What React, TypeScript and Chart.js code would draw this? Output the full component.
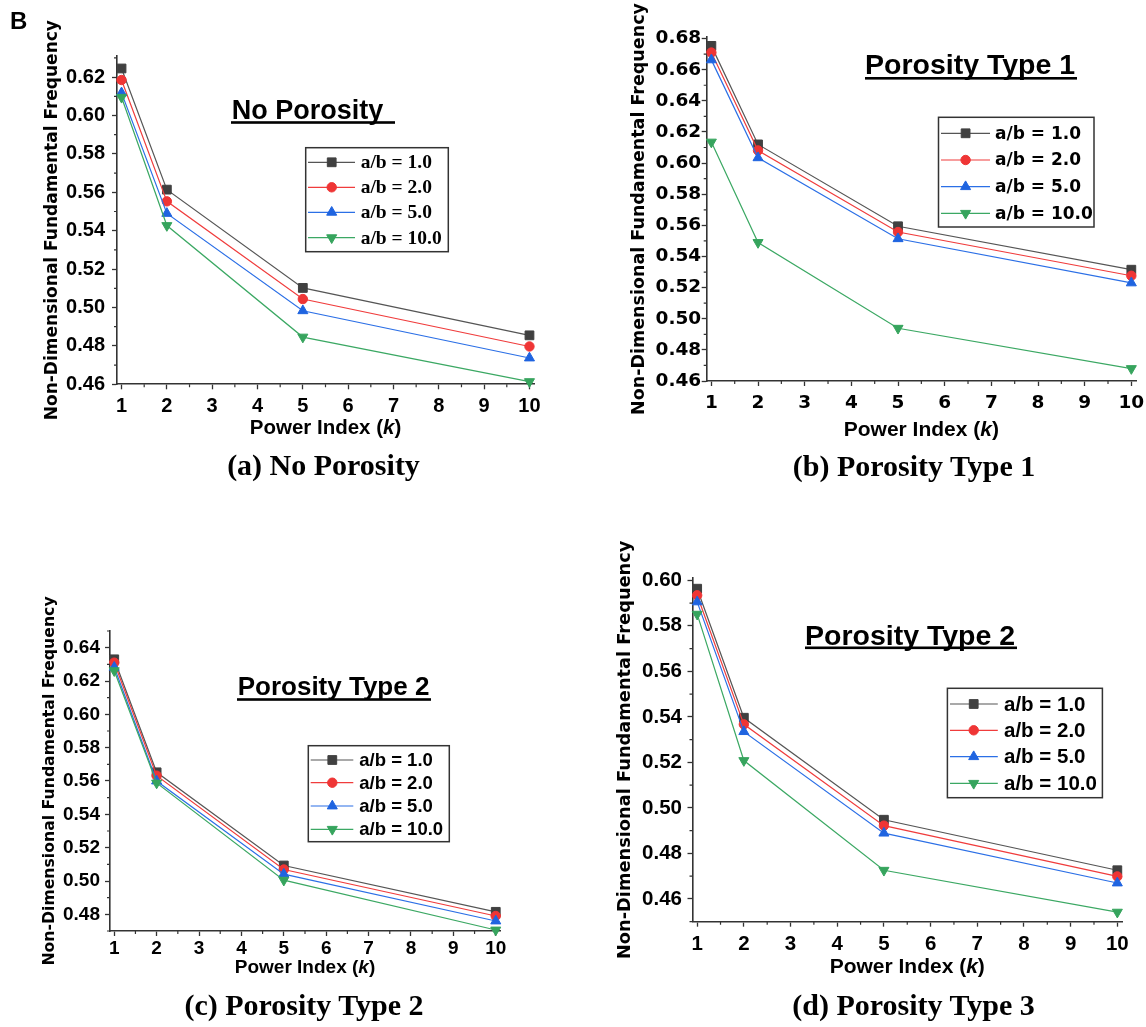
import React, { useEffect, useRef } from 'react';
import { Chart, registerables } from 'chart.js';

Chart.register(...registerables);

// ---------------- data ----------------
const powerIndex = [1, 2, 5, 10];
const seriesNames = ['a/b = 1.0', 'a/b = 2.0', 'a/b = 5.0', 'a/b = 10.0'];
const xTickValues = [1, 2, 3, 4, 5, 6, 7, 8, 9, 10];

// (a) No Porosity
const noPorosityAb1 = [0.6245, 0.5614, 0.5102, 0.4855];
const noPorosityAb2 = [0.6185, 0.5553, 0.5044, 0.4797];
const noPorosityAb5 = [0.6118, 0.549, 0.4983, 0.4737];
const noPorosityAb10 = [0.6095, 0.5427, 0.4846, 0.4614];

// (b) Porosity Type 1
const type1Ab1 = [0.6753, 0.612, 0.5594, 0.5315];
const type1Ab2 = [0.671, 0.6081, 0.5557, 0.5276];
const type1Ab5 = [0.6663, 0.6034, 0.5514, 0.523];
const type1Ab10 = [0.6135, 0.549, 0.4939, 0.468];

// (c) Porosity Type 2
const type2Ab1 = [0.633, 0.5652, 0.5093, 0.4815];
const type2Ab2 = [0.631, 0.5632, 0.5069, 0.479];
const type2Ab5 = [0.6282, 0.56, 0.5041, 0.476];
const type2Ab10 = [0.6262, 0.5588, 0.5005, 0.4706];

// (d) Porosity Type 3
const type3Ab1 = [0.5963, 0.5396, 0.4948, 0.4726];
const type3Ab2 = [0.5934, 0.5367, 0.4922, 0.4699];
const type3Ab5 = [0.5905, 0.5335, 0.4889, 0.467];
const type3Ab10 = [0.5851, 0.5208, 0.4726, 0.4542];

const yTicksA = [0.46, 0.48, 0.5, 0.52, 0.54, 0.56, 0.58, 0.6, 0.62];
const yTicksB = [0.46, 0.48, 0.5, 0.52, 0.54, 0.56, 0.58, 0.6, 0.62, 0.64, 0.66, 0.68];
const yTicksC = [0.48, 0.5, 0.52, 0.54, 0.56, 0.58, 0.6, 0.62, 0.64];
const yTicksD = [0.46, 0.48, 0.5, 0.52, 0.54, 0.56, 0.58, 0.6];

const panelCaptions = ['(a) No Porosity', '(b) Porosity Type 1', '(c) Porosity Type 2', '(d) Porosity Type 3'];
const insetTitles = ['No Porosity ', 'Porosity Type 1', 'Porosity Type 2', 'Porosity Type 2'];
const yAxisTitle = 'Non-Dimensional Fundamental Frequency';
const xAxisTitleParts = ['Power Index (', 'k', ')'];
const figureLabel = 'B';

// ---------------- styles ----------------
const PAGE_W = 1146;
const PAGE_H = 1027;
const Y_W = 100;
const X_H = 70;

const SERIES_STYLE = [
  { line: '#555555', fill: '#404040', shape: 'rect', rot: 0, r: 6.2 },
  { line: '#f03c3c', fill: '#ef3535', shape: 'circle', rot: 0, r: 4.7 },
  { line: '#2b6fe6', fill: '#1f64e0', shape: 'triangle', rot: 0, r: 5.8 },
  { line: '#3ba863', fill: '#36a45d', shape: 'triangle', rot: 180, r: 5.8 },
];

type PanelSpec = {
  id: string;
  series: number[][];
  yTicks: number[];
  yMin: number;
  yMax: number;
  area: { l: number; r: number; t: number; b: number };
  tickFamily: string;
  tickSize: number;
  yTickPad: number;
  xTickPad: number;
  yTitleX: number;
  yTitleFont: string;
  xTitleY: number;
  xTitleFamily: string;
  xTitleSize: number;
  inset: { text: string; x: number; y: number; font: string; ux0: number; ux1: number; uy: number };
  legend: { box: number[]; ys: number[]; lx0: number; lx1: number; mx: number; tx: number; font: string };
  caption: string;
  capX: number;
  capY: number;
};

const PANELS: PanelSpec[] = [
  {
    id: 'a',
    series: [noPorosityAb1, noPorosityAb2, noPorosityAb5, noPorosityAb10],
    yTicks: yTicksA, yMin: 0.46, yMax: 0.631,
    area: { l: 117, r: 534, t: 56, b: 384.3 },
    tickFamily: 'Liberation Sans', tickSize: 20, yTickPad: 7, xTickPad: 4.8,
    yTitleX: 53, yTitleFont: 'bold 17px "DejaVu Sans"',
    xTitleY: 428, xTitleFamily: 'Liberation Sans', xTitleSize: 20.5,
    inset: { text: insetTitles[0], x: 231.7, y: 118.5, font: 'bold 27px "Liberation Sans"', ux0: 231, ux1: 395, uy: 122.5 },
    legend: { box: [305.7, 147.7, 448.3, 251.7], ys: [162.3, 187.3, 212.3, 237.7], lx0: 308, lx1: 355, mx: 331.7, tx: 360.7, font: 'bold 19.5px "Liberation Serif"' },
    caption: panelCaptions[0], capX: 323.5, capY: 467,
  },
  {
    id: 'b',
    series: [type1Ab1, type1Ab2, type1Ab5, type1Ab10],
    yTicks: yTicksB, yMin: 0.46, yMax: 0.681,
    area: { l: 706.7, r: 1136, t: 37, b: 381 },
    tickFamily: 'DejaVu Sans', tickSize: 18.5, yTickPad: 0.5, xTickPad: 6,
    yTitleX: 639, yTitleFont: 'bold 17.5px "DejaVu Sans"',
    xTitleY: 430, xTitleFamily: 'Liberation Sans', xTitleSize: 21,
    inset: { text: insetTitles[1], x: 865, y: 73.5, font: 'bold 28.5px "Liberation Sans"', ux0: 865, ux1: 1077, uy: 78.3 },
    legend: { box: [938.5, 117.3, 1094, 227], ys: [133.3, 160, 186.7, 213.3], lx0: 941, lx1: 990, mx: 965.6, tx: 995, font: 'bold 17px "DejaVu Sans"' },
    caption: panelCaptions[1], capX: 914, capY: 468,
  },
  {
    id: 'c',
    series: [type2Ab1, type2Ab2, type2Ab5, type2Ab10],
    yTicks: yTicksC, yMin: 0.47, yMax: 0.65,
    area: { l: 110, r: 500, t: 631, b: 931 },
    tickFamily: 'Liberation Sans', tickSize: 19, yTickPad: 5, xTickPad: 1.6,
    yTitleX: 50, yTitleFont: 'bold 15.7px "DejaVu Sans"',
    xTitleY: 968, xTitleFamily: 'Liberation Sans', xTitleSize: 19,
    inset: { text: insetTitles[2], x: 237.7, y: 695, font: 'bold 26px "Liberation Sans"', ux0: 237, ux1: 431, uy: 699.5 },
    legend: { box: [308.3, 745.7, 449.3, 841.7], ys: [760, 782.7, 806, 829.3], lx0: 310.7, lx1: 353.3, mx: 332.3, tx: 359.3, font: 'bold 18.5px "Liberation Sans"' },
    caption: panelCaptions[2], capX: 304, capY: 1007,
  },
  {
    id: 'd',
    series: [type3Ab1, type3Ab2, type3Ab5, type3Ab10],
    yTicks: yTicksD, yMin: 0.45, yMax: 0.601,
    area: { l: 692.5, r: 1122, t: 578, b: 921.7 },
    tickFamily: 'Liberation Sans', tickSize: 20.5, yTickPad: 5.5, xTickPad: 5,
    yTitleX: 625, yTitleFont: 'bold 17.8px "DejaVu Sans"',
    xTitleY: 967, xTitleFamily: 'Liberation Sans', xTitleSize: 21,
    inset: { text: insetTitles[3], x: 805, y: 644.5, font: 'bold 28.5px "Liberation Sans"', ux0: 805, ux1: 1017, uy: 647.8 },
    legend: { box: [947.4, 688.3, 1102.4, 797.7], ys: [704, 730.3, 756.7, 783.3], lx0: 950, lx1: 997.8, mx: 973.7, tx: 1004, font: 'bold 20.5px "Liberation Sans"' },
    caption: panelCaptions[3], capX: 913.5, capY: 1007,
  },
];

function drawMarker(ctx: CanvasRenderingContext2D, st: any, x: number, y: number) {
  ctx.save();
  ctx.fillStyle = st.fill;
  ctx.strokeStyle = st.fill;
  ctx.lineWidth = 1;
  ctx.beginPath();
  if (st.shape === 'rect') {
    const s = st.r * Math.SQRT1_2;
    ctx.rect(x - s, y - s, 2 * s, 2 * s);
  } else if (st.shape === 'circle') {
    ctx.arc(x, y, st.r, 0, Math.PI * 2);
  } else {
    let a = (st.rot * Math.PI) / 180;
    ctx.moveTo(x + Math.sin(a) * st.r, y - Math.cos(a) * st.r);
    a += (2 * Math.PI) / 3;
    ctx.lineTo(x + Math.sin(a) * st.r, y - Math.cos(a) * st.r);
    a += (2 * Math.PI) / 3;
    ctx.lineTo(x + Math.sin(a) * st.r, y - Math.cos(a) * st.r);
    ctx.closePath();
  }
  ctx.fill();
  ctx.stroke();
  ctx.restore();
}

function decorPlugin(p: PanelSpec) {
  return {
    id: 'decor_' + p.id,
    afterDraw(chart: any) {
      const ctx: CanvasRenderingContext2D = chart.ctx;
      const ca = chart.chartArea;
      const xs = chart.scales.x;
      const ys = chart.scales.y;
      ctx.save();
      // minor ticks
      ctx.strokeStyle = '#333';
      ctx.lineWidth = 1.2;
      ctx.beginPath();
      for (let i = 0; i < xTickValues.length - 1; i++) {
        const v = (xTickValues[i] + xTickValues[i + 1]) / 2;
        const px = xs.getPixelForValue(v);
        ctx.moveTo(px, ca.bottom);
        ctx.lineTo(px, ca.bottom + 3);
      }
      const step = p.yTicks[1] - p.yTicks[0];
      const minors: number[] = [];
      for (let v = p.yTicks[0] - step / 2; v <= p.yMax + 1e-9; v += step) {
        if (v >= p.yMin - 1e-9) minors.push(v);
      }
      minors.forEach((v) => {
        const py = ys.getPixelForValue(v);
        ctx.moveTo(ca.left - 3, py);
        ctx.lineTo(ca.left, py);
      });
      ctx.stroke();

      // y title
      ctx.save();
      ctx.translate(p.yTitleX, (ca.top + ca.bottom) / 2);
      ctx.rotate(-Math.PI / 2);
      ctx.font = p.yTitleFont;
      ctx.fillStyle = '#000';
      ctx.textAlign = 'center';
      ctx.textBaseline = 'middle';
      ctx.fillText(yAxisTitle, 0, 0);
      ctx.restore();

      // x title with italic k
      const fonts = [
        `bold ${p.xTitleSize}px "${p.xTitleFamily}"`,
        `italic bold ${p.xTitleSize}px "${p.xTitleFamily}"`,
        `bold ${p.xTitleSize}px "${p.xTitleFamily}"`,
      ];
      let total = 0;
      const widths = xAxisTitleParts.map((t, i) => {
        ctx.font = fonts[i];
        const w = ctx.measureText(t).width;
        total += w;
        return w;
      });
      let cx = (ca.left + ca.right) / 2 - total / 2;
      ctx.fillStyle = '#000';
      ctx.textAlign = 'left';
      ctx.textBaseline = 'middle';
      xAxisTitleParts.forEach((t, i) => {
        ctx.font = fonts[i];
        ctx.fillText(t, cx, p.xTitleY);
        cx += widths[i];
      });

      // inset title with underline
      ctx.font = p.inset.font;
      ctx.textBaseline = 'alphabetic';
      ctx.fillText(p.inset.text, p.inset.x, p.inset.y);
      ctx.fillRect(p.inset.ux0, p.inset.uy - 1.3, p.inset.ux1 - p.inset.ux0, 2.6);

      // legend
      const lg = p.legend;
      ctx.fillStyle = '#fff';
      ctx.fillRect(lg.box[0], lg.box[1], lg.box[2] - lg.box[0], lg.box[3] - lg.box[1]);
      ctx.strokeStyle = '#333';
      ctx.lineWidth = 1.5;
      ctx.strokeRect(lg.box[0], lg.box[1], lg.box[2] - lg.box[0], lg.box[3] - lg.box[1]);
      seriesNames.forEach((name, i) => {
        const st = SERIES_STYLE[i];
        const y = lg.ys[i];
        ctx.strokeStyle = st.line;
        ctx.lineWidth = 1.2;
        ctx.beginPath();
        ctx.moveTo(lg.lx0, y);
        ctx.lineTo(lg.lx1, y);
        ctx.stroke();
        drawMarker(ctx, st, lg.mx, y);
        ctx.fillStyle = '#000';
        ctx.font = lg.font;
        ctx.textAlign = 'left';
        ctx.textBaseline = 'middle';
        ctx.fillText(name, lg.tx, y + 1);
      });
      ctx.restore();
    },
  };
}

function buildConfig(p: PanelSpec): any {
  const tickFont = { family: p.tickFamily, size: p.tickSize, weight: 'bold' as const };
  return {
    type: 'line',
    data: {
      datasets: p.series.map((vals, i) => {
        const st = SERIES_STYLE[i];
        return {
          label: seriesNames[i],
          data: powerIndex.map((k, j) => ({ x: k, y: vals[j] })),
          borderColor: st.line,
          borderWidth: 1.2,
          backgroundColor: st.fill,
          pointStyle: st.shape,
          pointRotation: st.rot,
          pointRadius: st.r,
          pointBackgroundColor: st.fill,
          pointBorderColor: st.fill,
          pointBorderWidth: 1,
          tension: 0,
          fill: false,
          clip: false,
          order: 3 - i,
        };
      }),
    },
    options: {
      responsive: false,
      maintainAspectRatio: false,
      animation: false,
      events: [],
      layout: {
        padding: {
          left: p.area.l - Y_W,
          top: p.area.t,
          right: PAGE_W - p.area.r,
          bottom: PAGE_H - p.area.b - X_H,
        },
      },
      plugins: { legend: { display: false }, tooltip: { enabled: false }, title: { display: false } },
      scales: {
        x: {
          type: 'linear',
          min: 0.9,
          max: 10.1,
          afterBuildTicks: (s: any) => {
            s.ticks = xTickValues.map((v) => ({ value: v }));
          },
          afterFit: (s: any) => {
            s.height = X_H;
            s.paddingLeft = 0;
            s.paddingRight = 0;
          },
          ticks: {
            font: tickFont,
            color: '#000',
            padding: p.xTickPad,
            autoSkip: false,
            maxRotation: 0,
            callback: (v: any) => String(v),
          },
          grid: { display: true, drawOnChartArea: false, drawTicks: true, tickLength: 5, tickColor: '#333', tickWidth: 1.3 },
          border: { display: true, color: '#333', width: 1.6 },
        },
        y: {
          type: 'linear',
          min: p.yMin,
          max: p.yMax,
          afterBuildTicks: (s: any) => {
            s.ticks = p.yTicks.map((v) => ({ value: v }));
          },
          afterFit: (s: any) => {
            s.width = Y_W;
            s.paddingTop = 0;
            s.paddingBottom = 0;
          },
          ticks: {
            font: tickFont,
            color: '#000',
            padding: p.yTickPad,
            autoSkip: false,
            callback: (v: any) => Number(v).toFixed(2),
          },
          grid: { display: true, drawOnChartArea: false, drawTicks: true, tickLength: 5, tickColor: '#333', tickWidth: 1.3 },
          border: { display: true, color: '#333', width: 1.6 },
        },
      },
    },
    plugins: [decorPlugin(p)],
  };
}

function Panel({ spec }: { spec: PanelSpec }) {
  const ref = useRef<HTMLCanvasElement>(null);
  useEffect(() => {
    if (!ref.current) return;
    const chart = new Chart(ref.current, buildConfig(spec));
    return () => chart.destroy();
  }, [spec]);
  return (
    <canvas
      ref={ref}
      width={PAGE_W}
      height={PAGE_H}
      style={{ position: 'absolute', left: 0, top: 0, width: PAGE_W, height: PAGE_H }}
    />
  );
}

export default function App() {
  return (
    <div
      style={{
        position: 'absolute',
        left: 0,
        top: 0,
        width: PAGE_W,
        height: PAGE_H,
        overflow: 'hidden',
        background: '#fff',
      }}
    >
      {PANELS.map((p) => (
        <Panel key={p.id} spec={p} />
      ))}
      <div
        style={{
          position: 'absolute',
          left: 10,
          top: 9,
          font: 'bold 24px "Liberation Sans"',
          lineHeight: '24px',
          color: '#000',
        }}
      >
        {figureLabel}
      </div>
      {PANELS.map((p) => (
        <div
          key={'cap' + p.id}
          style={{
            position: 'absolute',
            left: p.capX - 250,
            width: 500,
            top: p.capY - 17,
            textAlign: 'center',
            font: 'bold 30px "Liberation Serif"',
            lineHeight: '30px',
            color: '#000',
            whiteSpace: 'nowrap',
          }}
        >
          {p.caption}
        </div>
      ))}
    </div>
  );
}
